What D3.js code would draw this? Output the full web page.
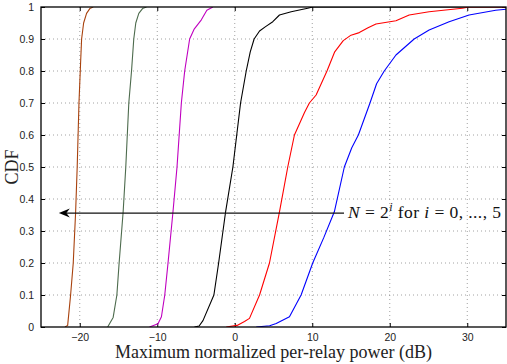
<!DOCTYPE html>
<html>
<head>
<meta charset="utf-8">
<script src="https://cdn.jsdelivr.net/npm/d3@7"></script>
<style>
  html, body { margin: 0; padding: 0; background: #fff; }
  svg { display: block; }
</style>
</head>
<body>
<div id="chart"></div>
<script>
// CDF curves, as [dB, cdf] pairs, one per N = 2^i
const brown = [[-21.9,0],[-21.56,0.005],[-21.18,0.1],[-20.84,0.2],[-20.53,0.36],[-20.33,0.5],[-20.1,0.7],[-19.9,0.82],[-19.76,0.9],[-19.5,0.95],[-19.12,0.98],[-18.7,0.995],[-18.27,1]];
const green = [[-16.4,0],[-15.69,0.03],[-15.21,0.1],[-14.92,0.2],[-14.4,0.36],[-14.06,0.5],[-13.67,0.7],[-13.32,0.8],[-13.03,0.9],[-12.77,0.95],[-12.38,0.98],[-11.9,0.995],[-11.39,1]];
const magenta = [[-11,0],[-9.9,0.01],[-9.46,0.032],[-9.03,0.1],[-8.61,0.2],[-7.97,0.36],[-7.45,0.5],[-6.89,0.7],[-6.46,0.8],[-5.82,0.9],[-5.26,0.93],[-4.31,0.96],[-3.6,0.99],[-2.82,1]];
const black = [[-5.2,0],[-4.6,0.003],[-4.1,0.02],[-2.69,0.1],[-2.08,0.2],[-1.18,0.36],[-0.24,0.5],[0.75,0.7],[1.48,0.8],[2.0,0.86],[2.5,0.9],[3.2,0.925],[3.93,0.938],[4.91,0.954],[5.77,0.975],[7.28,0.985],[9.41,0.996],[10.06,1],[35,1]];
const red = [[-1.1,0],[0.3,0.005],[1.26,0.017],[1.9,0.027],[3.2,0.1],[4.48,0.2],[5.77,0.36],[6.84,0.5],[7.7,0.6],[9.0,0.67],[9.63,0.7],[10.5,0.725],[11.9,0.8],[12.9,0.86],[14.0,0.895],[15.0,0.912],[16.07,0.92],[17.2,0.935],[18.22,0.947],[20.8,0.957],[22.51,0.975],[25.08,0.985],[29.37,0.996],[30.2,1],[35,1]];
const blue = [[2.77,0],[4.5,0.004],[5.35,0.011],[7.06,0.032],[8.56,0.1],[10.06,0.2],[11.5,0.28],[12.85,0.36],[14.14,0.5],[15.1,0.56],[15.95,0.6],[17.45,0.7],[18.3,0.76],[19.29,0.8],[20.8,0.85],[23.15,0.9],[25.08,0.928],[27.66,0.954],[30.24,0.975],[33.67,0.99],[35,0.993]];

const seriesData = [brown, green, magenta, black, red, blue];
const seriesColors = ["#a8420e", "#4d6b4d", "#c000c0", "#000000", "#ff0000", "#0000ff"];

const xTicks = [-20, -10, 0, 10, 20, 30];
const yTicks = [0, 0.1, 0.2, 0.3, 0.4, 0.5, 0.6, 0.7, 0.8, 0.9, 1];

// arrow annotation: from the label back to the leftmost curve
const arrowFrom = 14.1, arrowTo = -22.7, arrowY = 0.356;

const width = 507, height = 364;
const plotLeft = 41, plotRight = 506, plotTop = 7, plotBottom = 327;

const x = d3.scaleLinear().domain([-25, 35]).range([plotLeft, plotRight]);
const y = d3.scaleLinear().domain([0, 1]).range([plotBottom, plotTop]);

const svg = d3.select("#chart").append("svg").attr("width", width).attr("height", height);

svg.append("defs").append("clipPath").attr("id", "plot")
  .append("rect").attr("x", plotLeft).attr("y", plotTop)
  .attr("width", plotRight - plotLeft).attr("height", plotBottom - plotTop);

////////////////////////////////////////////////////////////////////////////////////
// grid

const grid = svg.append("g").attr("stroke", "#8a8a8a").attr("stroke-width", 0.8).attr("stroke-dasharray", "1,3");
grid.selectAll("line.gx").data(xTicks).enter().append("line")
  .attr("x1", d => x(d)).attr("x2", d => x(d)).attr("y1", plotTop).attr("y2", plotBottom);
grid.selectAll("line.gy").data(yTicks.filter(d => d > 0 && d < 1)).enter().append("line")
  .attr("x1", plotLeft).attr("x2", plotRight).attr("y1", d => y(d)).attr("y2", d => y(d));

////////////////////////////////////////////////////////////////////////////////////
// axes: ticks point inwards on all four sides

const axisFont = "'Liberation Sans', Arial, sans-serif";

const xAxis = svg.append("g").attr("transform", `translate(0,${plotBottom})`)
  .call(d3.axisBottom(x).tickValues(xTicks).tickSizeInner(-4).tickSizeOuter(0).tickPadding(7));
const xAxisTop = svg.append("g").attr("transform", `translate(0,${plotTop})`)
  .call(d3.axisTop(x).tickValues(xTicks).tickSizeInner(-4).tickSizeOuter(0).tickFormat(""));
const yAxis = svg.append("g").attr("transform", `translate(${plotLeft},0)`)
  .call(d3.axisLeft(y).tickValues(yTicks).tickSizeInner(-4).tickSizeOuter(0).tickPadding(7)
    .tickFormat(d => d3.format("~g")(d)));
const yAxisRight = svg.append("g").attr("transform", `translate(${plotRight},0)`)
  .call(d3.axisRight(y).tickValues(yTicks).tickSizeInner(-4).tickSizeOuter(0).tickFormat(""));

[xAxis, xAxisTop, yAxis, yAxisRight].forEach(g => {
  g.select(".domain").remove();
  g.selectAll("line").attr("stroke", "#000");
  g.selectAll("text").attr("font-family", axisFont).attr("font-size", "10.5px").attr("fill", "#222");
});

////////////////////////////////////////////////////////////////////////////////////
// curves

const line = d3.line().x(d => x(d[0])).y(d => y(d[1]));

svg.append("g").attr("clip-path", "url(#plot)")
  .selectAll("path").data(seriesData).enter().append("path")
  .attr("d", line)
  .attr("fill", "none")
  .attr("stroke", (d, i) => seriesColors[i])
  .attr("stroke-width", 1.1)
  .attr("stroke-linejoin", "round");

// frame
svg.append("rect").attr("x", plotLeft).attr("y", plotTop)
  .attr("width", plotRight - plotLeft).attr("height", plotBottom - plotTop)
  .attr("fill", "none").attr("stroke", "#000").attr("stroke-width", 1.3);

////////////////////////////////////////////////////////////////////////////////////
// annotation arrow

const ay = y(arrowY);
svg.append("line")
  .attr("x1", x(arrowFrom)).attr("x2", x(arrowTo) + 4)
  .attr("y1", ay).attr("y2", ay)
  .attr("stroke", "#111").attr("stroke-width", 1.1);

const ax = x(arrowTo);
svg.append("path")
  .attr("d", `M${ax},${ay} L${ax + 11},${ay - 4.5} L${ax + 7.5},${ay} L${ax + 11},${ay + 4.5} Z`)
  .attr("fill", "#000");

const serif = "'Liberation Serif', 'Times New Roman', serif";

const note = svg.append("text")
  .attr("x", x(arrowFrom) + 4).attr("y", ay + 5)
  .attr("textLength", 153).attr("lengthAdjust", "spacing")
  .attr("font-family", serif).attr("font-size", "17.5px").attr("fill", "#111");
note.append("tspan").attr("font-style", "italic").text("N");
note.append("tspan").text(" = 2");
note.append("tspan").attr("font-style", "italic").attr("font-size", "12px").attr("dy", -7).text("i");
note.append("tspan").attr("dy", 7).text(" for ");
note.append("tspan").attr("font-style", "italic").text("i");
note.append("tspan").text(" = 0, ..., 5");

////////////////////////////////////////////////////////////////////////////////////
// axis titles

svg.append("text")
  .attr("x", 115).attr("y", 358)
  .attr("textLength", 317).attr("lengthAdjust", "spacing")
  .attr("font-family", serif).attr("font-size", "18px").attr("fill", "#222")
  .text("Maximum normalized per-relay power (dB)");

svg.append("text")
  .attr("transform", `translate(18,${(plotTop + plotBottom) / 2}) rotate(-90)`)
  .attr("text-anchor", "middle")
  .attr("font-family", serif).attr("font-size", "18px").attr("fill", "#222")
  .text("CDF");
</script>
</body>
</html>
